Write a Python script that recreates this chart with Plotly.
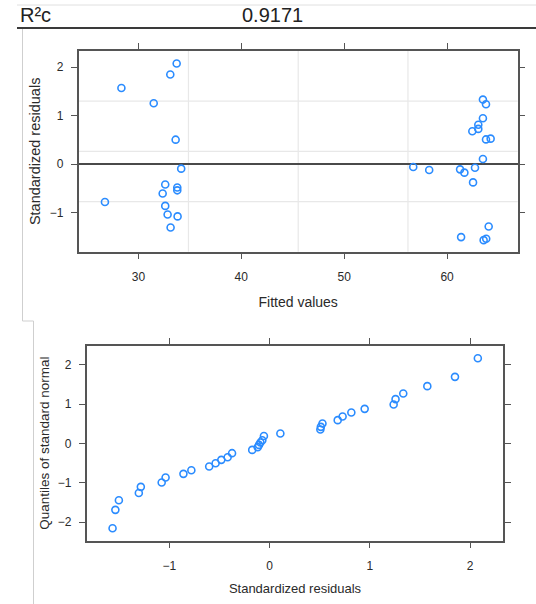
import plotly.graph_objects as go

# ---- data ----
fitted = [33.72, 33.10, 28.35, 31.49, 33.62, 34.16, 32.61, 33.78, 33.78, 32.36,
          26.75, 32.61, 32.84, 33.81, 33.13, 63.48, 63.78, 63.48, 63.03, 63.03,
          62.45, 63.78, 64.23, 63.48, 56.71, 58.26, 61.26, 61.68, 62.71, 62.52,
          64.04, 61.36, 63.55, 63.80]
std_resid = [2.078, 1.850, 1.574, 1.257, 0.507, -0.091, -0.418, -0.481, -0.538, -0.602,
             -0.780, -0.859, -1.037, -1.076, -1.304, 1.334, 1.238, 0.949, 0.816, 0.729,
             0.680, 0.512, 0.528, 0.108, -0.056, -0.118, -0.105, -0.173, -0.072, -0.374,
             -1.284, -1.503, -1.566, -1.538]
normal_quantiles = [-2.16, -1.69, -1.445, -1.26, -1.105, -0.994, -0.866, -0.774, -0.68, -0.586,
                    -0.502, -0.417, -0.349, -0.247, -0.163, -0.094, -0.036, 0.025, 0.084, 0.19,
                    0.255, 0.357, 0.423, 0.51, 0.594, 0.688, 0.79, 0.882, 0.994, 1.129,
                    1.274, 1.46, 1.697, 2.17]
top_xticks = [30, 40, 50, 60]
top_yticks = [-1, 0, 1, 2]
qq_xticks = [-1, 0, 1, 2]
qq_yticks = [-2, -1, 0, 1, 2]
header_label = "R²c"
header_value = "0.9171"

W, H = 536, 604
FONT = "Liberation Sans, Arial, sans-serif"
BLUE = "#2b8cff"
AXC = "#555555"
TXT = "#2a2a2a"

def px(x):
    return x / W

def py(y):
    return 1 - y / H

fig = go.Figure()
marker = dict(symbol="circle-open", size=7, color=BLUE, line=dict(width=1.6, color=BLUE))
fig.add_trace(go.Scatter(x=fitted, y=std_resid, mode="markers", marker=marker,
                         xaxis="x", yaxis="y", showlegend=False, hoverinfo="x+y"))
fig.add_trace(go.Scatter(x=sorted(std_resid), y=normal_quantiles, mode="markers", marker=marker,
                         xaxis="x2", yaxis="y2", showlegend=False, hoverinfo="x+y"))

axis_common = dict(showline=True, linecolor=AXC, linewidth=1.5, mirror="ticks",
                   ticks="outside", ticklen=6, tickwidth=1.3, tickcolor=AXC,
                   showgrid=False, tickfont=dict(family=FONT, size=12, color=TXT),
                   fixedrange=True)

fig.update_layout(
    width=W, height=H, margin=dict(l=0, r=0, t=0, b=0),
    paper_bgcolor="white", plot_bgcolor="white",
    font=dict(family=FONT, color=TXT),
    xaxis=dict(domain=[px(78.7), px(517.7)], range=[24.2, 66.86], anchor="y",
               tickvals=top_xticks, zeroline=False, ticklabelstandoff=7,
               title=dict(text="Fitted values", font=dict(size=14, family=FONT, color=TXT), standoff=14),
               **axis_common),
    yaxis=dict(domain=[py(251.7), py(51)], range=[-1.804, 2.336], anchor="x",
               tickvals=top_yticks, zeroline=True, zerolinecolor="#4a4a4a", zerolinewidth=2,
               ticklabelstandoff=5,
               title=dict(text="Standardized residuals", font=dict(size=14.5, family=FONT, color=TXT), standoff=6),
               **axis_common),
    xaxis2=dict(domain=[px(86.7), px(503.3)], range=[-1.824, 2.332], anchor="y2",
                tickvals=qq_xticks, zeroline=False, ticklabelstandoff=7,
                title=dict(text="Standardized residuals", font=dict(size=13, family=FONT, color=TXT), standoff=12),
                **axis_common),
    yaxis2=dict(domain=[py(540.7), py(345.7)], range=[-2.476, 2.49], anchor="x2",
                tickvals=qq_yticks, zeroline=False, ticklabelstandoff=5,
                title=dict(text="Quantiles of standard normal", font=dict(size=13.5, family=FONT, color=TXT), standoff=5),
                **axis_common),
)

shapes = []
# grid lines in the top panel (quarters of the panel)
for f in (0.25, 0.5, 0.75):
    shapes.append(dict(type="line", xref="x domain", yref="y domain", x0=f, x1=f, y0=0, y1=1,
                       line=dict(color="#e8e8e8", width=1.2), layer="below"))
    shapes.append(dict(type="line", xref="x domain", yref="y domain", x0=0, x1=1, y0=f, y1=f,
                       line=dict(color="#e8e8e8", width=1.2), layer="below"))
# header rules and separators
shapes.append(dict(type="line", xref="paper", yref="paper", x0=px(17), x1=1, y0=py(5), y1=py(5),
                   line=dict(color="#e0e0e0", width=1)))
shapes.append(dict(type="line", xref="paper", yref="paper", x0=px(17), x1=1, y0=py(28), y1=py(28),
                   line=dict(color="#3a3a3a", width=2)))
shapes.append(dict(type="line", xref="paper", yref="paper", x0=px(22.5), x1=px(22.5), y0=py(29), y1=py(321),
                   line=dict(color="#cfcfcf", width=1)))
shapes.append(dict(type="line", xref="paper", yref="paper", x0=px(22.5), x1=px(33.5), y0=py(321), y1=py(321),
                   line=dict(color="#cfcfcf", width=1)))
shapes.append(dict(type="line", xref="paper", yref="paper", x0=px(33.5), x1=px(33.5), y0=py(321), y1=0,
                   line=dict(color="#cfcfcf", width=1)))
fig.update_layout(shapes=shapes)

fig.add_annotation(text=header_label, xref="paper", yref="paper", x=px(18), y=py(15),
                   xanchor="left", yanchor="middle", showarrow=False,
                   font=dict(family=FONT, size=20, color="#222222"))
fig.add_annotation(text=header_value, xref="paper", yref="paper", x=px(272), y=py(15),
                   xanchor="center", yanchor="middle", showarrow=False,
                   font=dict(family=FONT, size=20, color="#222222"))

fig.write_html("out.html", config={"displayModeBar": False},
               post_script="document.body.style.margin='0';")
